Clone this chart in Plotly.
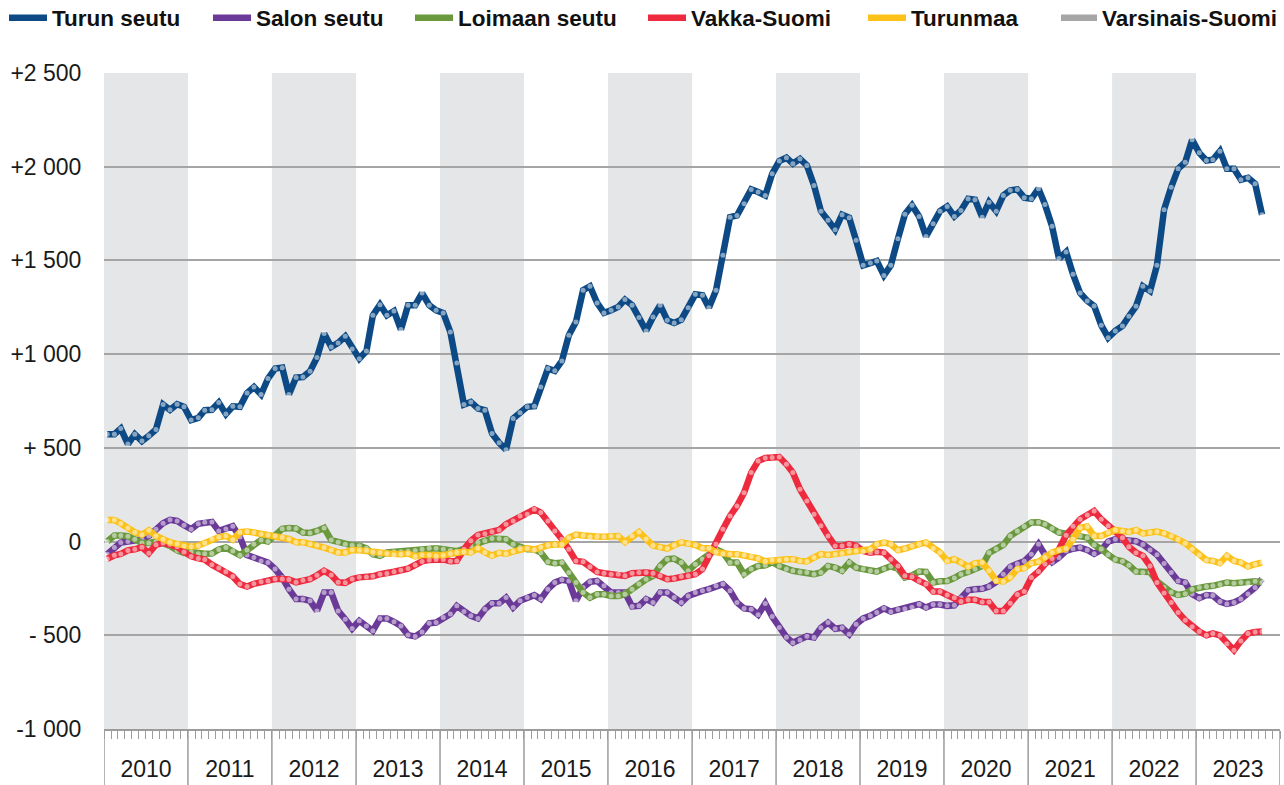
import pandas as pd
import plotly.graph_objects as go

# ---------------- data ----------------
start_month = "2010-01-01"
n_months = 166
months = pd.date_range(start_month, periods=n_months, freq="MS") + pd.Timedelta(days=14)

years = list(range(2010, 2025))
shaded_years = [2010, 2012, 2014, 2016, 2018, 2020, 2022]

y_tickvals = [-1000, -500, 0, 500, 1000, 1500, 2000, 2500]
y_ticktext = ["-1 000", "- 500", "0", "+ 500", "+1 000", "+1 500", "+2 000", "+2 500"]

turun_seutu = [
    573, 573, 603, 520, 573, 536, 564, 598, 731, 703, 733, 719,
    648, 660, 701, 703, 742, 680, 722, 719, 793, 825, 785, 870,
    923, 928, 785, 875, 878, 909, 982, 1110, 1038, 1060, 1095, 1028,
    976, 1017, 1207, 1264, 1207, 1230, 1131, 1261, 1261, 1326, 1261, 1234,
    1220, 1118, 953, 731, 745, 710, 701, 577, 527, 490, 657, 687,
    719, 722, 825, 923, 911, 964, 1101, 1172, 1341, 1362, 1273, 1220,
    1234, 1252, 1291, 1261, 1195, 1124, 1198, 1261, 1181, 1166, 1184, 1248,
    1319, 1314, 1248, 1341, 1527, 1731, 1740, 1803, 1879, 1865, 1847, 1962,
    2030, 2048, 2016, 2042, 2007, 1900, 1763, 1714, 1664, 1744, 1728, 1607,
    1474, 1486, 1497, 1420, 1474, 1616, 1746, 1794, 1735, 1628, 1696, 1763,
    1788, 1735, 1767, 1829, 1824, 1731, 1811, 1763, 1847, 1874, 1879, 1835,
    1829, 1883, 1799, 1682, 1510, 1545, 1426, 1326, 1284, 1257, 1154, 1088,
    1124, 1150, 1202, 1255, 1362, 1337, 1474, 1771, 1891, 1989, 2024, 2144,
    2074, 2033, 2037, 2083, 1989, 1989, 1931, 1941, 1909, 1744,
]

salon_seutu = [
    -68, -32, -5, 0, 7, 12, 30, 66, 98, 116, 110, 87,
    66, 95, 103, 105, 57, 67, 82, 25, -72, -85, -103, -112,
    -147, -192, -254, -307, -307, -316, -370, -272, -272, -370, -414, -464,
    -423, -450, -476, -410, -410, -428, -450, -499, -506, -483, -436, -432,
    -405, -387, -343, -373, -396, -410, -361, -329, -329, -299, -352, -316,
    -299, -286, -307, -254, -219, -204, -210, -316, -245, -215, -210, -236,
    -272, -272, -272, -346, -343, -307, -325, -272, -272, -299, -325, -290,
    -272, -263, -254, -236, -227, -263, -325, -357, -361, -390, -330, -400,
    -458, -510, -540, -525, -505, -512, -460, -432, -465, -460, -495, -441,
    -410, -396, -378, -356, -374, -363, -358, -350, -334, -352, -336, -336,
    -343, -340, -300, -260, -254, -252, -240, -215, -175, -135, -118, -105,
    -68, -14, -70, -110, -85, -50, -38, -32, -45, -65, -45, 0,
    12, 8, 6, 2, -15, -45, -70, -117, -165, -210, -219, -280,
    -302, -285, -288, -320, -333, -325, -307, -280, -245, -200,
]

loimaan_seutu = [
    0, 32, 32, 29, 12, -7, -7, 0, -9, -23, -47, -60,
    -56, -65, -65, -64, -42, -32, -50, -73, -45, -14, 8, 0,
    30, 68, 72, 70, 48, 46, 57, 73, 8, -3, -14, -20,
    -22, -36, -68, -76, -58, -54, -54, -51, -48, -41, -35, -36,
    -41, -47, -51, -39, -23, -5, 4, 16, 16, 12, -14, -32,
    -41, -41, -59, -108, -115, -112, -165, -219, -272, -299, -281, -281,
    -290, -290, -281, -254, -227, -201, -183, -130, -94, -91, -112, -156,
    -121, -94, -68, -41, -59, -112, -112, -174, -147, -130, -127, -110,
    -130, -147, -156, -162, -165, -174, -165, -130, -139, -156, -112, -139,
    -147, -156, -160, -145, -132, -145, -192, -180, -160, -162, -218, -212,
    -210, -195, -174, -162, -147, -130, -60, -39, -18, 30, 57, 80,
    102, 103, 92, 70, 48, 42, 35, 30, 21, -18, -39, -70,
    -96, -105, -126, -160, -165, -163, -212, -245, -271, -285, -278, -255,
    -245, -240, -236, -229, -218, -222, -218, -221, -212, -218,
]

vakka_suomi = [
    -92, -73, -66, -47, -41, -30, -62, -17, -7, -14, -28, -55,
    -79, -90, -96, -123, -141, -161, -186, -227, -240, -225, -214, -210,
    -200, -200, -202, -217, -207, -200, -180, -156, -178, -217, -220, -200,
    -191, -189, -185, -174, -170, -161, -153, -144, -125, -106, -98, -95,
    -95, -105, -103, -41, 4, 35, 42, 52, 62, 92, 110, 137,
    146, 172, 155, 110, 57, 12, -41, -103, -108, -135, -162, -169,
    -174, -174, -183, -169, -165, -165, -169, -183, -201, -197, -187, -183,
    -174, -147, -76, -14, 66, 137, 190, 261, 368, 430, 446, 448,
    451, 412, 368, 279, 217, 146, 84, 30, -23, -23, -14, -23,
    -50, -59, -55, -59, -94, -130, -183, -188, -210, -227, -267, -267,
    -285, -300, -320, -311, -311, -322, -322, -370, -370, -329, -282, -267,
    -192, -160, -120, -90, -41, 34, 82, 119, 142, 163, 119, 85,
    57, 20, -28, -59, -76, -130, -218, -275, -325, -378, -420, -455,
    -480, -500, -490, -500, -545, -580, -530, -490, -483, -480,
]

turunmaa = [
    115, 115, 97, 72, 50, 37, 60, 30, 12, -3, -12, -23,
    -27, -22, -7, 14, 24, 30, 10, 50, 54, 48, 41, 35,
    30, 23, 14, -3, -3, -13, -20, -32, -45, -58, -58, -45,
    -46, -48, -55, -58, -64, -70, -68, -64, -79, -71, -72, -77,
    -73, -65, -58, -55, -58, -35, -58, -75, -60, -65, -53, -40,
    -35, -43, -30, -20, -16, -16, 21, 37, 32, 26, 27, 26,
    30, 30, -3, 30, 51, 14, -21, -30, -37, -20, -4, -11,
    -18, -35, -35, -56, -65, -67, -67, -73, -80, -90, -105, -98,
    -98, -94, -94, -103, -106, -85, -67, -71, -67, -64, -53, -50,
    -53, -41, -14, -5, -14, -46, -37, -23, -14, -5, -37, -58,
    -103, -94, -112, -135, -115, -112, -156, -209, -213, -191, -147, -142,
    -115, -108, -85, -58, -46, -37, 12, 74, 80, 30, 30, 48,
    62, 57, 51, 62, 43, 48, 53, 44, 30, 12, -9, -41,
    -71, -99, -103, -115, -76, -103, -112, -133, -121, -112,
]

varsinais_suomi = []  # appears only in the legend of the original chart

series_names = ["Turun seutu", "Salon seutu", "Loimaan seutu", "Vakka-Suomi", "Turunmaa", "Varsinais-Suomi"]
series_values = [turun_seutu, salon_seutu, loimaan_seutu, vakka_suomi, turunmaa, varsinais_suomi]
series_colors = ["#0d4a85", "#6b3a98", "#6a983d", "#ee2a3e", "#fcc21a", "#a6a6a6"]

# legend entry left edges (px from figure left) and symbol-to-text widths
legend_left_px = [4, 208, 410, 643, 863, 1056]
legend_itemwidth = [38, 38, 38, 38, 38, 36]

# ---------------- figure ----------------
M_L, M_R, M_T, M_B = 104, 4, 73, 56
W, H = 1284, 785
plot_w = W - M_L - M_R
plot_h = H - M_T - M_B

fig = go.Figure()
legend_ids = ["legend"] + [f"legend{k}" for k in range(2, len(series_names) + 1)]
for name, vals, col, lid in zip(series_names, series_values, series_colors, legend_ids):
    xs = list(months[: len(vals)]) if vals else [None]
    ys = vals if vals else [None]
    fig.add_trace(go.Scatter(
        x=xs, y=ys, mode="lines", name=name, legend=lid,
        line=dict(color=col, width=6.5),
    ))
    if vals:
        fig.add_trace(go.Scatter(
            x=xs, y=ys, mode="markers", showlegend=False, hoverinfo="skip",
            marker=dict(size=5, color="rgba(255,255,255,0.5)", line=dict(width=0)),
        ))

shapes = []
for yr in shaded_years:
    shapes.append(dict(type="rect", xref="x", yref="paper",
                       x0=f"{yr}-01-01", x1=f"{yr + 1}-01-01", y0=0, y1=1,
                       fillcolor="#e5e6e8", line=dict(width=0), layer="below"))
for yr in years:
    shapes.append(dict(type="line", xref="x", yref="paper",
                       x0=f"{yr}-01-01", x1=f"{yr}-01-01", y0=0, y1=-M_B / plot_h,
                       line=dict(color="#9c9c9c", width=1.5)))

legend_y = 1 + (M_T - 18) / plot_h
legend_layouts = {}
for lid, lpx, iw in zip(legend_ids, legend_left_px, legend_itemwidth):
    legend_layouts[lid] = dict(
        orientation="h", x=(lpx - M_L) / plot_w, y=legend_y,
        xanchor="left", yanchor="middle",
        font=dict(size=22.5, weight="bold", color="#111111",
                  family="Liberation Sans, Arial, sans-serif"),
        itemwidth=iw, bgcolor="rgba(0,0,0,0)",
    )

fig.update_layout(
    width=W, height=H,
    margin=dict(l=M_L, r=M_R, t=M_T, b=M_B, autoexpand=False),
    plot_bgcolor="white", paper_bgcolor="white",
    font=dict(family="Liberation Sans, Arial, sans-serif", color="#1a1a1a", size=22),
    shapes=shapes,
    showlegend=True,
    xaxis=dict(
        type="date", range=["2010-01-01", "2024-01-01"],
        tick0="2010-01-01", dtick="M12", tickformat="%Y", ticklabelmode="period",
        ticks="outside", ticklen=8, tickcolor="#9c9c9c", tickwidth=1,
        showline=True, linecolor="#9c9c9c", linewidth=1.5,
        showgrid=False, zeroline=False,
        tickfont=dict(size=23), ticklabelstandoff=11,
        minor=dict(dtick="M1", tick0="2010-01-01", ticks="outside", ticklen=8,
                   tickcolor="#9c9c9c", tickwidth=1, showgrid=False),
    ),
    yaxis=dict(
        range=[-1000, 2500], tickvals=y_tickvals, ticktext=y_ticktext,
        showgrid=True, gridcolor="#a5a5a5", gridwidth=2,
        zeroline=False, showline=False,
        ticks="outside", ticklen=17, tickcolor="rgba(0,0,0,0)",
        tickfont=dict(size=23),
    ),
    **legend_layouts,
)

fig.write_html("out.html", config={"displayModeBar": False},
               post_script="document.body.style.margin='0';")
